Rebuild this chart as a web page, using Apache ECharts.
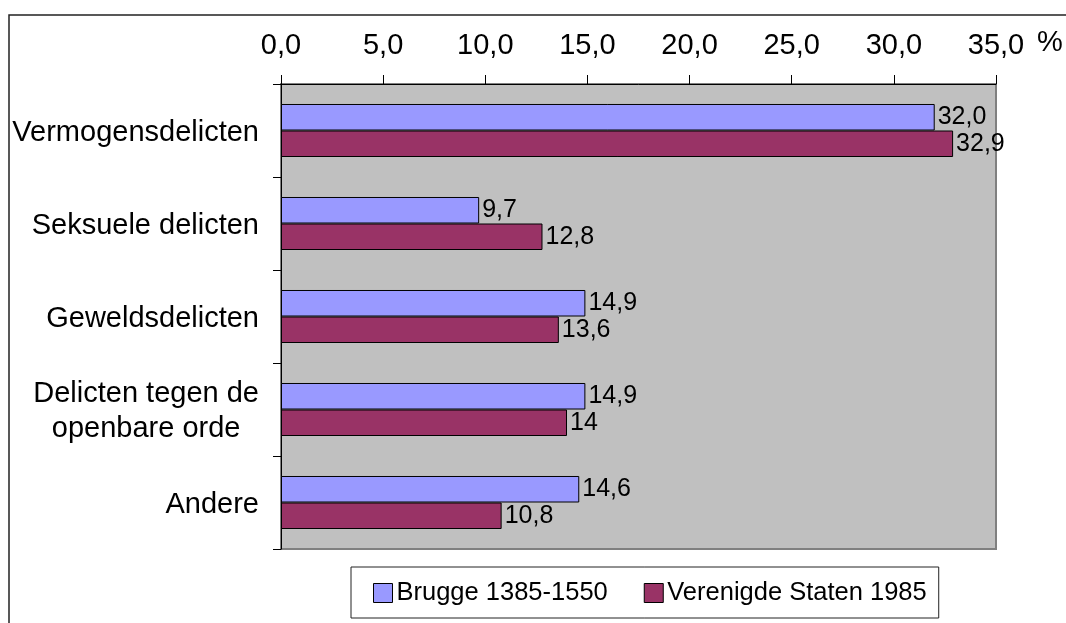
<!DOCTYPE html>
<html>
<head>
<meta charset="utf-8">
<script src="https://cdn.jsdelivr.net/npm/echarts@6/dist/echarts.min.js"></script>
<style>
html,body{margin:0;padding:0;background:#fff;}
#chart{width:1066px;height:623px;}
</style>
</head>
<body>
<div id="chart"></div>
<script>
const categories = ['Vermogensdelicten', 'Seksuele delicten', 'Geweldsdelicten', 'Delicten tegen de\nopenbare orde', 'Andere'];
const seriesNames = ['Brugge 1385-1550', 'Verenigde Staten 1985'];
const brugge = [32.0, 9.7, 14.9, 14.9, 14.6];
const verenigdeStaten = [32.9, 12.8, 13.6, 14, 10.8];
const tickLabels = ['0,0', '5,0', '10,0', '15,0', '20,0', '25,0', '30,0', '35,0'];
const unitLabel = '%';

const FONT = '"Liberation Sans", Arial, sans-serif';
const chart = echarts.init(document.getElementById('chart'), null, {renderer: 'canvas'});

const option = {
  animation: false,
  backgroundColor: '#ffffff',
  textStyle: {fontFamily: FONT, color: '#000'},
  graphic: [{
    type: 'rect',
    shape: {x: 9, y: 15, width: 1200, height: 800},
    style: {fill: 'none', stroke: '#222', lineWidth: 1.5},
    silent: true,
    z: -10
  }, {
    type: 'text',
    x: 1037, y: 43,
    style: {text: unitLabel, fontFamily: FONT, fontSize: 29, fill: '#000', align: 'left', verticalAlign: 'middle'},
    silent: true
  }],
  grid: {
    left: 281, right: 70, top: 84, bottom: 74,
    show: true, backgroundColor: '#C0C0C0', borderColor: '#808080', borderWidth: 2
  },
  legend: {
    data: seriesNames,
    left: 351, top: 567,
    padding: [13, 12, 12, 22],
    itemGap: 36,
    itemWidth: 19, itemHeight: 19,
    icon: 'rect',
    borderColor: '#222', borderWidth: 1,
    backgroundColor: '#fff',
    textStyle: {fontFamily: FONT, fontSize: 25.5, color: '#000', padding: [0, 0, 0, -1]},
    itemStyle: {borderColor: '#000', borderWidth: 1}
  },
  xAxis: {
    type: 'value',
    position: 'top',
    min: 0, max: 35, interval: 5,
    axisLine: {show: true, lineStyle: {color: '#000', width: 1}},
    axisTick: {show: true, length: 9, inside: false, lineStyle: {color: '#000'}},
    axisLabel: {
      fontFamily: FONT, fontSize: 29, color: '#000', margin: 24,
      formatter: (v) => tickLabels[Math.round(v / 5)]
    },
    splitLine: {show: false}
  },
  yAxis: {
    type: 'category',
    data: categories,
    inverse: true,
    axisLine: {show: true, lineStyle: {color: '#000', width: 1}},
    axisTick: {show: true, length: 8, lineStyle: {color: '#000'}},
    axisLabel: {
      fontFamily: FONT, fontSize: 29, color: '#000', margin: 22,
      lineHeight: 35,
      formatter: (v) => v.split('\n').map(s => '{c|' + s + '}').join('\n'),
      rich: {c: {fontFamily: FONT, fontSize: 29, color: '#000', align: 'center', lineHeight: 35, padding: [4, 0, 0, 0]}}
    },
    splitLine: {show: false}
  },
  series: [
    {
      name: seriesNames[0], type: 'bar', data: brugge,
      barGap: '0%', barCategoryGap: '43%',
      itemStyle: {color: '#9999FF', borderColor: '#000', borderWidth: 1},
      label: {show: true, position: 'right', distance: 3, fontFamily: FONT, fontSize: 25, color: '#000',
        formatter: (p) => p.value.toFixed(1).replace('.', ',')}
    },
    {
      name: seriesNames[1], type: 'bar', data: verenigdeStaten,
      barGap: '0%', barCategoryGap: '43%',
      itemStyle: {color: '#993366', borderColor: '#000', borderWidth: 1},
      label: {show: true, position: 'right', distance: 3, fontFamily: FONT, fontSize: 25, color: '#000',
        formatter: (p) => String(p.value).replace('.', ',')}
    }
  ]
};
chart.setOption(option);
</script>
</body>
</html>
